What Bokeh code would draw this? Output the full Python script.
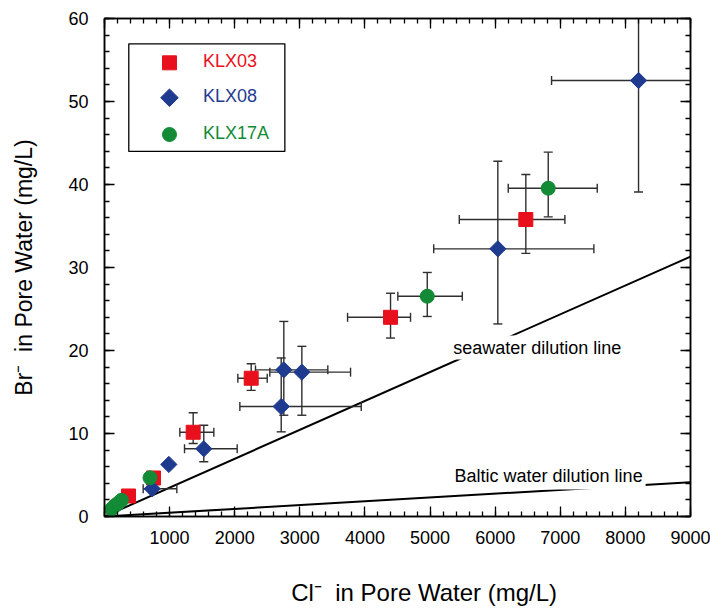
import numpy as np
from bokeh.plotting import figure
from bokeh.models import (Range1d, FixedTicker, LinearAxis, Legend, LegendItem,
                          BoxAnnotation, Label)
from bokeh.embed import file_html
from bokeh.resources import INLINE

NaN = float("nan")

# ---------------- data ----------------
klx03_cl = [369, 753, 1362, 2253, 4393, 6471]
klx03_br = [2.47, 4.64, 10.15, 16.66, 24.0, 35.78]
klx03_cl_lo = [NaN, NaN, 1157, 2048, 3733, 5449]
klx03_cl_hi = [NaN, NaN, 1679, 2499, 4700, 7071]
klx03_br_lo = [NaN, NaN, 8.8, 15.2, 21.5, 31.7]
klx03_br_hi = [NaN, NaN, 12.5, 18.4, 26.9, 41.2]

klx08_cl = [733, 988, 1525, 2714, 2754, 3031, 6041, 8202]
klx08_br = [3.34, 6.27, 8.16, 13.25, 17.67, 17.39, 32.25, 52.53]
klx08_cl_lo = [594, NaN, 1229, 2079, 2319, 2539, 5056, 6866]
klx08_cl_hi = [1111, NaN, 2038, 3943, 3430, 3779, 7516, 9540]
klx08_br_lo = [NaN, NaN, 6.6, 10.2, 12.2, 12.2, 23.2, 39.1]
klx08_br_hi = [NaN, NaN, 11.0, 19.1, 23.5, 20.5, 42.8, 65.9]

klx17a_cl = [110, 160, 210, 260, 699, 4957, 6815]
klx17a_br = [0.9, 1.3, 1.6, 1.95, 4.66, 26.54, 39.55]
klx17a_cl_lo = [NaN, NaN, NaN, NaN, NaN, 4505, 6201]
klx17a_cl_hi = [NaN, NaN, NaN, NaN, NaN, 5495, 7568]
klx17a_br_lo = [NaN, NaN, NaN, NaN, NaN, 24.1, 36.1]
klx17a_br_hi = [NaN, NaN, NaN, NaN, NaN, 29.4, 43.9]

series_names = ["KLX03", "KLX08", "KLX17A"]

# Br/Cl ratios of the dilution lines
seawater_ratio = 0.00348
baltic_ratio = 0.000459
line_cl = [0, 9000]

x_ticks = list(range(0, 9001, 1000))
x_minor = list(range(0, 9001, 200))
y_ticks = list(range(0, 61, 10))
y_minor = list(range(0, 61, 2))

RED = "#E8101C"
BLUE = "#1F3B8F"
GREEN = "#138B36"
ERR = "#2e2e2e"
FONT = "Liberation Sans"
SP = "\u00a0\u00a0"
NB = "\u00a0"

p = figure(frame_width=586, frame_height=498,
           x_range=Range1d(0, 9000), y_range=Range1d(0, 60),
           output_backend="svg", toolbar_location=None,
           min_border_left=104, min_border_right=20,
           min_border_top=18, min_border_bottom=96)
p.background_fill_color = "white"
p.border_fill_color = "white"
p.outline_line_color = "black"
p.outline_line_width = 1.5
p.xgrid.visible = False
p.ygrid.visible = False

bottom_axis = p.below[0]
left_axis = p.left[0]
top_axis = LinearAxis()
right_axis = LinearAxis()
p.add_layout(top_axis, "above")
p.add_layout(right_axis, "right")

xt = FixedTicker(ticks=x_ticks, minor_ticks=x_minor)
yt = FixedTicker(ticks=y_ticks, minor_ticks=y_minor)

for ax, tk in [(bottom_axis, xt), (top_axis, xt), (left_axis, yt), (right_axis, yt)]:
    ax.ticker = tk
    ax.major_tick_in = 10
    ax.major_tick_out = 0
    ax.minor_tick_in = 5
    ax.minor_tick_out = 0
    ax.axis_line_width = 1.5
    ax.axis_line_color = "black"
    ax.major_tick_line_width = 1.3
    ax.minor_tick_line_width = 1.3
    ax.major_tick_line_color = "black"
    ax.minor_tick_line_color = "black"
    ax.major_label_text_font = FONT
    ax.major_label_text_font_size = "18px"
    ax.major_label_text_color = "black"

for ax in (top_axis, right_axis):
    ax.major_label_text_font_size = "0px"
    ax.major_label_text_alpha = 0
    ax.major_label_standoff = 0

bottom_axis.major_label_overrides = {0: ""}
bottom_axis.major_label_standoff = 14
left_axis.major_label_standoff = 16

# the reference's x title sits a little right of centre
bottom_axis.axis_label = NB * 8 + "Cl\u207b" + SP + "in Pore Water (mg/L)"
left_axis.axis_label = "Br\u207b" + SP + "in Pore Water (mg/L)"
for ax in (bottom_axis, left_axis):
    ax.axis_label_text_font = FONT
    ax.axis_label_text_font_style = "normal"
    ax.axis_label_text_color = "black"
bottom_axis.axis_label_text_font_size = "24px"
left_axis.axis_label_text_font_size = "23px"
bottom_axis.axis_label_standoff = 32
left_axis.axis_label_standoff = 28

# dilution lines
p.line(line_cl, [c * seawater_ratio for c in line_cl], line_color="black", line_width=2)
p.line(line_cl, [c * baltic_ratio for c in line_cl], line_color="black", line_width=2)


def errorbars(cl, br, lo_x, hi_x, lo_y, hi_y):
    p.segment(x0=lo_x, y0=br, x1=hi_x, y1=br, line_color=ERR, line_width=1.4)
    p.segment(x0=cl, y0=lo_y, x1=cl, y1=hi_y, line_color=ERR, line_width=1.4)
    p.scatter(x=list(lo_x) + list(hi_x), y=list(br) + list(br), marker="dash",
              angle=np.pi / 2, size=9, line_color=ERR, line_width=1.4)
    p.scatter(x=list(cl) + list(cl), y=list(lo_y) + list(hi_y), marker="dash",
              size=9, line_color=ERR, line_width=1.4)


errorbars(klx03_cl, klx03_br, klx03_cl_lo, klx03_cl_hi, klx03_br_lo, klx03_br_hi)
errorbars(klx08_cl, klx08_br, klx08_cl_lo, klx08_cl_hi, klx08_br_lo, klx08_br_hi)
errorbars(klx17a_cl, klx17a_br, klx17a_cl_lo, klx17a_cl_hi, klx17a_br_lo, klx17a_br_hi)

MARKERS = [dict(marker="square", size=14, angle=0.0),
           dict(marker="square", size=11.5, angle=np.pi / 4),
           dict(marker="circle", size=14, angle=0.0)]
COLORS = [RED, BLUE, GREEN]

for cl, br, mk, col in zip([klx03_cl, klx08_cl, klx17a_cl],
                           [klx03_br, klx08_br, klx17a_br], MARKERS, COLORS):
    p.scatter(cl, br, fill_color=col, line_color=col, **mk)

# line labels (white box hides the line underneath)
p.add_layout(Label(x=5325, y=20.36, text="seawater dilution line",
                   text_baseline="middle", text_align="left",
                   text_font=FONT, text_font_size="18px", text_color="black",
                   background_fill_color="white", padding=2))
p.add_layout(Label(x=5330, y=4.82, text="Baltic water dilution line",
                   text_baseline="middle", text_align="left",
                   text_font=FONT, text_font_size="18px", text_color="black",
                   background_fill_color="white", padding=3))

# ---------------- legend ----------------
# frame of the legend
p.add_layout(BoxAnnotation(left=373, right=2770, top=56.95, bottom=43.98,
                           fill_color=None, fill_alpha=0,
                           line_color="black", line_width=1.3, line_alpha=1))
# legend symbols (drawn at the legend's place so the diamond keeps its shape)
LEG_X = 998
LEG_Y = [54.66, 50.45, 46.02]
LEG_SIZES = [14, 12.5, 14]
for mk, col, ly, sz in zip(MARKERS, COLORS, LEG_Y, LEG_SIZES):
    p.scatter([LEG_X], [ly], marker=mk["marker"], angle=mk["angle"], size=sz,
              fill_color=col, line_color=col)
# legend labels (one Legend per entry so each label keeps its series colour)
for name, col, vy in zip(series_names, COLORS, [444, 409, 372]):
    dummy = p.scatter([], [], marker="circle", size=1, fill_alpha=0, line_alpha=0)
    leg = Legend(items=[LegendItem(label=name, renderers=[dummy])],
                 location=(55, vy))
    leg.border_line_color = None
    leg.background_fill_alpha = 0
    leg.padding = 0
    leg.margin = 0
    leg.spacing = 0
    leg.glyph_width = 20
    leg.glyph_height = 20
    leg.label_height = 20
    leg.label_standoff = 24
    leg.label_text_font = FONT
    leg.label_text_font_size = "18px"
    leg.label_text_color = col
    p.add_layout(leg)

open("out.html", "w").write(file_html(p, INLINE))
